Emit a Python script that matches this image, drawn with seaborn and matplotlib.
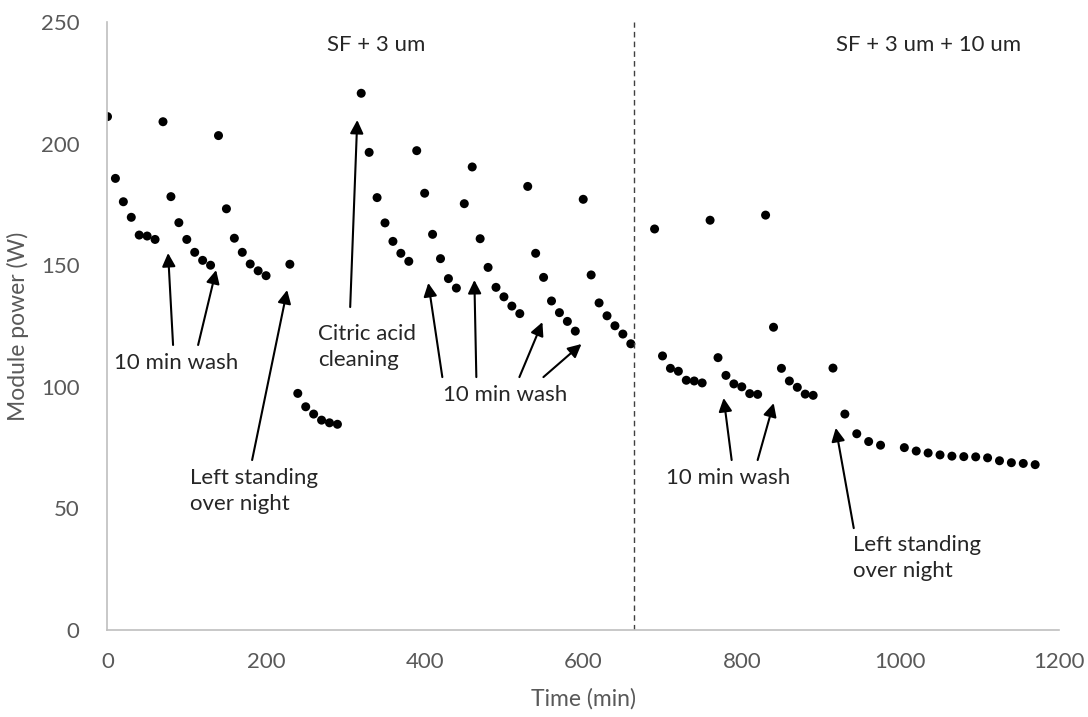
import matplotlib
matplotlib.use("Agg")
import matplotlib.pyplot as plt
import seaborn as sns
import numpy as np

# ---- data -------------------------------------------------------------
time_min = [0, 10, 20, 30, 40, 50, 60,
            70, 80, 90, 100, 110, 120, 130,
            140, 150, 160, 170, 180, 190, 200,
            230,
            240, 250, 260, 270, 280, 290,
            320, 330, 340, 350, 360, 370, 380,
            390, 400, 410, 420, 430, 440,
            450, 460, 470, 480, 490, 500, 510, 520,
            530, 540, 550, 560, 570, 580, 590,
            600, 610, 620, 630, 640, 650, 660,
            690, 700, 710, 720, 730, 740, 750,
            760, 770, 780, 790, 800, 810, 820,
            830, 840, 850, 860, 870, 880, 890,
            915,
            930, 945, 960, 975,
            1005, 1020, 1035, 1050, 1065, 1080, 1095, 1110, 1125, 1140, 1155, 1170]
power_w = [211.1, 185.7, 176.1, 169.7, 162.4, 162.0, 160.6,
           209.0, 178.2, 167.5, 160.6, 155.3, 152.0, 150.0,
           203.3, 173.2, 161.1, 155.3, 150.5, 147.7, 145.7,
           150.4,
           97.3, 91.8, 88.8, 86.3, 85.2, 84.6,
           220.7, 196.4, 177.8, 167.4, 159.8, 154.9, 151.6,
           197.1, 179.6, 162.7, 152.7, 144.5, 140.6,
           175.3, 190.4, 160.9, 149.1, 140.9, 137.0, 133.2, 130.1,
           182.4, 154.9, 145.0, 135.3, 130.5, 126.9, 122.9,
           177.1, 146.0, 134.5, 129.2, 125.1, 121.7, 117.7,
           164.9, 112.7, 107.6, 106.4, 102.7, 102.4, 101.6,
           168.5, 112.0, 104.7, 101.2, 100.0, 97.2, 96.9,
           170.6, 124.5, 107.6, 102.4, 99.8, 97.0, 96.5,
           107.7,
           88.8, 80.7, 77.5, 76.0,
           75.0, 73.6, 72.8, 72.0, 71.5, 71.3, 71.2, 70.8, 69.6, 68.8, 68.5, 68.0]

x_ticks = [0, 200, 400, 600, 800, 1000, 1200]
y_ticks = [0, 50, 100, 150, 200, 250]
phase_change_min = 664
phase_labels = ["SF + 3 um", "SF + 3 um + 10 um"]

# ---- style ------------------------------------------------------------
sns.set_style("white")
plt.rcParams['font.family'] = ['Lato', 'DejaVu Sans']

fig = plt.figure(figsize=(10.88, 7.17), dpi=100)
ax = fig.add_axes([0.0988, 0.1213, 0.8745, 0.848])

sns.scatterplot(x=time_min, y=power_w, ax=ax, color="black", s=42,
                edgecolor="none", legend=False)

ax.set_xlim(0, 1200)
ax.set_ylim(0, 250)
ax.set_xticks(x_ticks)
ax.set_yticks(y_ticks)
grey = "#595959"
ax.tick_params(axis="both", length=0, labelsize=16, colors=grey)
ax.tick_params(axis="x", pad=16)
ax.tick_params(axis="y", pad=20)
for s in ["top", "right"]:
    ax.spines[s].set_visible(False)
for s in ["left", "bottom"]:
    ax.spines[s].set_color("#BFBFBF")
    ax.spines[s].set_linewidth(1.2)
ax.set_xlabel("Time (min)", fontsize=16.5, color=grey)
ax.set_ylabel("Module power (W)", fontsize=16.5, color=grey)
ax.xaxis.set_label_coords(0.5, -0.095)
ax.yaxis.set_label_coords(-0.083, 0.5)

ax.axvline(phase_change_min, color="#404040", lw=1.0, ls=(0, (4, 3)))

fs = 16
ax.text(339, 240.5, phase_labels[0], ha="center", va="center", fontsize=fs)
ax.text(1036, 240.5, phase_labels[1], ha="center", va="center", fontsize=fs)

arrowprops = dict(arrowstyle="-|>", color="black", lw=1.5,
                  mutation_scale=20, shrinkA=0, shrinkB=0)

def arrow(tail, head):
    ax.annotate("", xy=head, xytext=tail, arrowprops=arrowprops)

ax.text(87, 109.8, "10 min wash", ha="center", va="center", fontsize=fs)
arrow((82.7, 117.2), (76.4, 155.0))
arrow((114.3, 117.2), (137.0, 148.0))

ax.text(104, 57.2, "Left standing\nover night", ha="left", va="center",
        fontsize=fs, linespacing=1.4)
arrow((182.4, 69.9), (226.6, 139.8))

ax.text(266, 116.4, "Citric acid\ncleaning", ha="left", va="center",
        fontsize=fs, linespacing=1.4)
arrow((306.1, 132.8), (315.0, 209.7))

ax.text(502, 96.6, "10 min wash", ha="center", va="center", fontsize=fs)
arrow((422.3, 104.0), (404.6, 142.7))
arrow((465.2, 104.0), (462.7, 143.9))
arrow((519.5, 104.0), (548.5, 126.6))
arrow((549.8, 104.0), (597.8, 117.6))

ax.text(783, 62.5, "10 min wash", ha="center", va="center", fontsize=fs)
arrow((787.2, 69.9), (777.1, 95.4))
arrow((820.0, 69.9), (840.2, 93.3))

ax.text(940, 29.6, "Left standing\nover night", ha="left", va="center",
        fontsize=fs, linespacing=1.4)
arrow((941.2, 41.9), (918.5, 83.1))

fig.savefig("out.png", dpi=100)
